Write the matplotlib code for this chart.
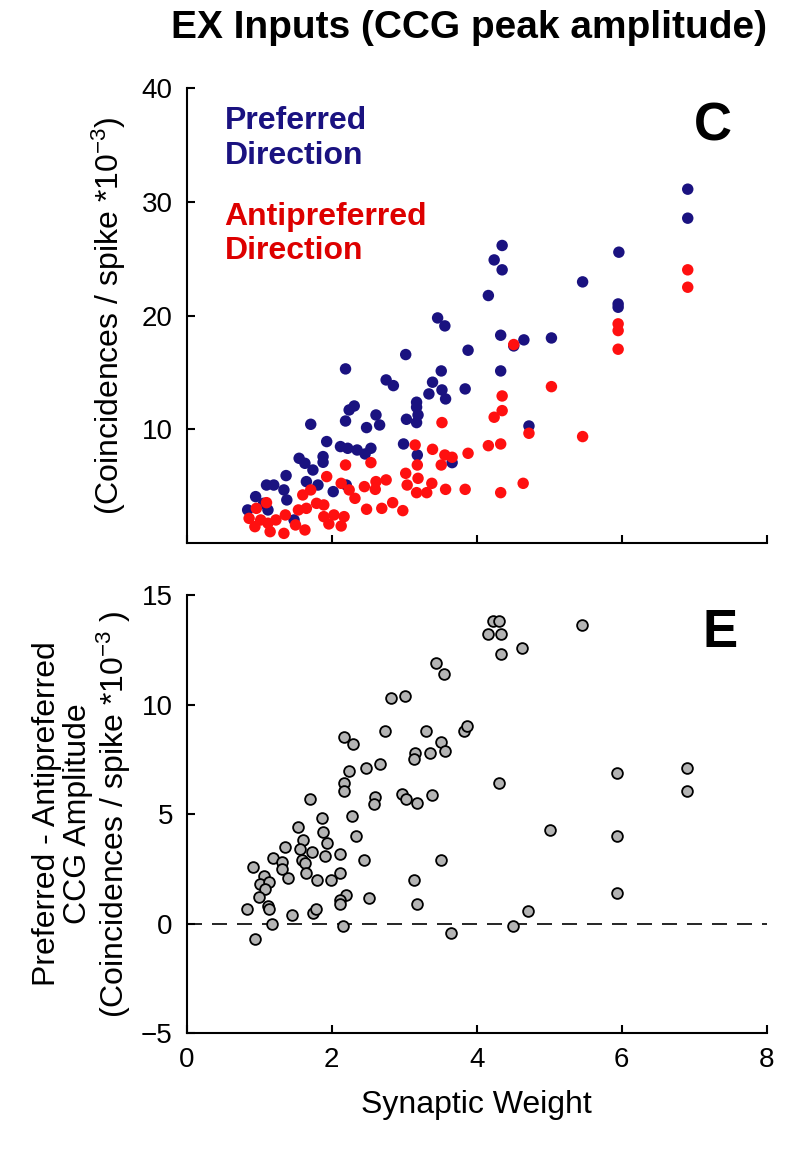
import matplotlib
matplotlib.use("Agg")
import matplotlib.pyplot as plt

plt.rcParams['font.family'] = ['Liberation Sans', 'DejaVu Sans']
plt.rcParams['mathtext.fontset'] = 'custom'
plt.rcParams['mathtext.rm'] = 'Liberation Sans'
plt.rcParams['mathtext.it'] = 'Liberation Sans'

# Panel C: preferred direction
pref_x = [6.91,6.91,4.35,4.24,4.35,5.96,5.46,4.16,5.95,5.95,3.46,3.56,4.33,4.65,5.03,4.51,3.88,3.02,2.19,3.51,4.33,
          2.75,2.85,3.39,3.84,3.34,3.52,3.57,3.17,2.31,2.24,3.17,3.19,2.61,3.03,3.17,2.19,1.71,2.48,2.66,4.72,1.93,
          2.99,2.12,2.22,2.35,2.54,2.46,3.18,3.66,1.55,1.63,1.88,1.88,1.74,1.37,1.10,1.20,0.95,1.34,1.38,1.65,1.81,
          2.02,2.20,0.84,1.12,1.48,1.06]
pref_y = [31.11,28.56,26.16,24.89,24.02,25.57,22.96,21.76,21.02,20.73,19.79,19.09,18.27,17.86,18.03,17.33,16.95,16.57,
          15.31,15.13,15.13,14.34,13.84,14.14,13.55,13.11,13.46,12.67,12.38,12.05,11.70,11.94,11.26,11.26,10.88,10.59,
          10.73,10.44,10.15,10.38,10.29,8.92,8.71,8.48,8.33,8.18,8.33,7.83,7.74,7.07,7.45,7.01,7.60,7.10,6.42,5.93,
          5.10,5.10,4.08,4.67,3.79,5.40,5.10,4.52,5.10,2.91,2.91,2.03,3.49]
# Panel C: antipreferred direction
anti_x = [6.91,6.91,5.95,5.95,5.95,4.51,5.03,4.35,4.35,4.24,3.52,4.72,5.46,4.16,4.33,3.15,3.39,3.56,3.66,3.88,3.51,
          3.18,2.19,2.54,1.93,3.02,3.19,3.38,4.64,3.57,3.84,4.33,3.17,3.31,3.04,2.75,2.61,2.45,2.60,2.13,2.24,2.32,
          1.71,1.60,1.65,1.79,1.89,2.48,2.69,2.84,2.98,1.54,1.10,0.96,1.89,2.03,2.17,1.96,2.13,1.36,1.23,0.86,1.02,
          0.94,1.15,1.34,1.50,1.63,1.12]
anti_y = [24.02,22.49,19.27,18.68,17.04,17.45,13.75,12.93,11.64,11.06,10.59,9.65,9.36,8.56,8.71,8.62,8.24,7.74,7.54,
          7.89,6.86,6.86,6.86,7.07,5.84,6.13,5.69,5.25,5.25,4.72,4.72,4.43,4.43,4.43,5.10,5.55,5.40,4.96,4.72,5.25,
          4.67,3.93,4.67,4.23,3.05,3.49,3.35,2.97,3.05,3.55,2.85,2.91,3.55,3.05,2.32,2.47,2.32,1.68,1.50,2.47,2.03,
          2.17,2.03,1.44,1.00,0.85,1.59,1.15,1.74]
# Panel E: difference
diff_x = [4.23,4.31,4.15,4.33,4.33,5.45,4.62,3.44,3.55,2.82,3.01,2.74,3.30,3.82,3.87,2.17,2.29,3.50,3.56,3.35,3.15,
          3.14,2.67,2.47,2.24,5.94,6.90,6.90,4.31,2.17,2.17,1.70,2.60,2.58,2.97,3.02,3.18,3.38,2.28,1.86,1.53,1.88,
          1.61,2.33,5.01,5.94,1.35,1.56,1.94,1.73,1.91,2.11,1.19,1.31,1.59,1.63,2.44,3.50,0.92,1.32,1.07,1.39,1.64,
          2.11,1.80,1.99,3.14,1.01,1.14,1.08,0.99,2.20,2.52,2.12,2.11,3.17,5.94,1.12,1.14,0.83,1.45,1.74,1.78,4.70,
          1.18,2.15,0.94,3.64,4.50]
diff_y = [13.82,13.82,13.21,13.21,12.30,13.62,12.60,11.90,11.39,10.28,10.39,8.81,8.81,8.81,9.00,8.50,8.20,8.28,7.90,
          7.80,7.80,7.50,7.29,7.09,6.98,6.89,7.09,6.07,6.41,6.41,6.07,5.68,5.80,5.47,5.91,5.68,5.50,5.88,4.89,4.80,
          4.39,4.20,3.83,3.98,4.28,3.98,3.49,3.40,3.68,3.28,3.07,3.19,3.01,2.79,2.88,2.76,2.88,2.88,2.60,2.49,2.19,
          2.08,2.31,2.31,1.99,1.99,1.98,1.81,1.88,1.58,1.20,1.30,1.18,1.09,0.87,0.88,1.40,0.79,0.67,0.67,0.41,0.49,
          0.67,0.58,0.00,-0.12,-0.70,-0.42,-0.12]

x_ticks = [0, 2, 4, 6, 8]

fig = plt.figure(figsize=(8.05, 11.51), dpi=100)
ax1 = fig.add_axes([0.232, 0.5282, 0.7205, 0.3953])
ax2 = fig.add_axes([0.232, 0.1025, 0.7205, 0.3805])

for ax in (ax1, ax2):
    for s in ('top', 'right'):
        ax.spines[s].set_visible(False)
    ax.spines['left'].set_linewidth(1.5)
    ax.spines['bottom'].set_linewidth(1.5)
    ax.tick_params(direction='in', length=6, width=1.5, labelsize=20, pad=10)
    ax.set_xlim(0, 8)
    ax.set_xticks(x_ticks)

ax1.scatter(pref_x, pref_y, s=68, color='#1a1280', edgecolors='none', zorder=2)
ax1.scatter(anti_x, anti_y, s=68, color='#ff1010', edgecolors='none', zorder=3)
ax1.set_ylim(0, 40)
ax1.set_yticks([10, 20, 30, 40])
ax1.set_xticklabels([])
ax1.set_ylabel('(Coincidences / spike *10$^{-3}$)', fontsize=23, labelpad=10)
ax1.text(0.065, 0.96, 'Preferred\nDirection', transform=ax1.transAxes, color='#1a1280',
         fontsize=23, fontweight='bold', va='top', linespacing=1.2)
ax1.text(0.065, 0.75, 'Antipreferred\nDirection', transform=ax1.transAxes, color='#dd0000',
         fontsize=23, fontweight='bold', va='top', linespacing=1.2)
ax1.text(0.94, 0.97, 'C', transform=ax1.transAxes, fontsize=38, fontweight='bold', ha='right', va='top')

ax2.axhline(0, color='black', lw=1.2, dashes=(9, 6), zorder=1)
ax2.scatter(diff_x, diff_y, s=60, color='#b4b4b4', edgecolors='black', linewidths=1.3, zorder=3)
ax2.set_ylim(-5, 15)
ax2.set_yticks([-5, 0, 5, 10, 15])
ax2.set_yticklabels(['\u22125', '0', '5', '10', '15'])
ax2.set_xlabel('Synaptic Weight', fontsize=23, labelpad=12)
ax2.set_ylabel('Preferred - Antipreferred\nCCG Amplitude\n(Coincidences / spike *10$^{-3}$ )',
               fontsize=23, labelpad=6, linespacing=1.05)
ax2.text(0.95, 0.97, 'E', transform=ax2.transAxes, fontsize=38, fontweight='bold', ha='right', va='top')

fig.text(0.583, 0.991, 'EX Inputs (CCG peak amplitude)', fontsize=28, fontweight='bold', ha='center', va='top')

fig.savefig('out.png', dpi=100)
